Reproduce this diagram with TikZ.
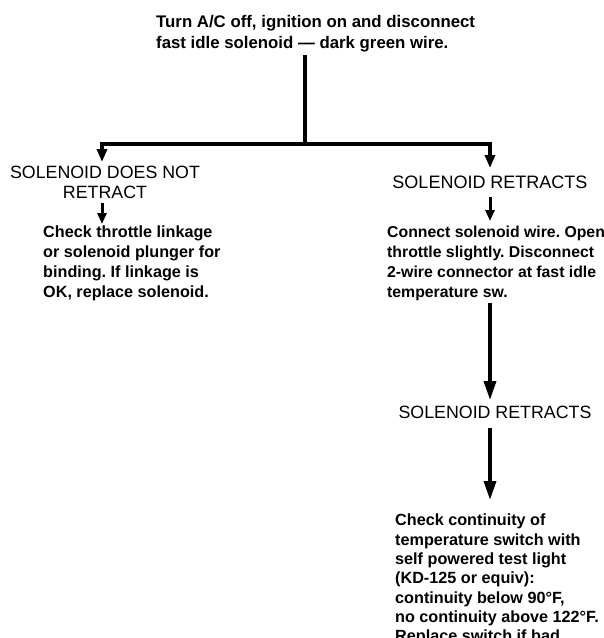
\documentclass[tikz,border=0pt]{standalone}
\usepackage{fontspec}
\setmainfont{Liberation Sans}
\usetikzlibrary{arrows.meta}
\frenchspacing

\begin{document}
\begin{tikzpicture}[x=1pt,y=-1pt,
  note/.style={font=\bfseries\fontsize{16.2}{20}\selectfont, align=left, anchor=north west, inner sep=0pt},
  result/.style={font=\fontsize{18}{20}\selectfont, align=center, anchor=north, inner sep=0pt},
  trunk/.style={line width=4pt},
  flow/.style={line width=3.5pt, -{Triangle[width=12pt,length=19pt]}},
  tick/.style={line width=3pt, -{Triangle[width=9pt,length=11pt]}}]
  \useasboundingbox (0,0) rectangle (604,638);

  \node[note, font=\bfseries\fontsize{16.8}{21}\selectfont] (turnoff) at (156,15)
    {Turn A/C off, ignition on and disconnect\\fast idle solenoid --- dark green wire.};

  \coordinate (split) at (305,144);
  \coordinate (lturn) at (102,144);
  \coordinate (rturn) at (490,144);

  \node[result, font=\fontsize{17.8}{20}\selectfont] (noretract) at (105,166) {SOLENOID DOES NOT\\RETRACT};
  \node[result] (retracts) at (490,176) {SOLENOID RETRACTS};

  \node[note] (linkage) at (43,226)
    {Check throttle linkage\\or solenoid plunger for\\binding. If linkage is\\OK, replace solenoid.};
  \node[note, font=\bfseries\fontsize{15.8}{20}\selectfont] (connect) at (387,226)
    {Connect solenoid wire. Open\\throttle slightly. Disconnect\\2-wire connector at fast idle\\temperature sw.};

  \node[result, font=\fontsize{17.8}{20}\selectfont] (retracts2) at (495,406) {SOLENOID RETRACTS};

  \node[note, font=\bfseries\fontsize{16.2}{19.3}\selectfont] (continuity) at (395,514)
    {Check continuity of\\temperature switch with\\self powered test light\\(KD-125 or equiv):\\continuity below 90°F,\\no continuity above 122°F.\\Replace switch if bad.};

  \draw[trunk, shorten <=3pt] (split |- turnoff.south) -- (split);
  \draw[flow, line width=4pt, -{Triangle[width=10pt,length=13pt]}, shorten >=4pt] (split) -| (lturn |- noretract.north);
  \draw[flow, line width=4pt, -{Triangle[width=10pt,length=13pt]}, shorten >=8pt] (split) -| (rturn |- retracts.north);

  \draw[tick, shorten <=4pt, shorten >=2pt] (lturn |- noretract.south) -- (lturn |- linkage.north);
  \draw[tick, shorten <=8pt, shorten >=5pt] (rturn |- retracts.south) -- (rturn |- connect.north);

  \draw[flow, shorten <=2pt, shorten >=6pt] (rturn |- connect.south) -- (rturn |- retracts2.north);
  \draw[flow, shorten <=9pt, shorten >=14pt] (rturn |- retracts2.south) -- (rturn |- continuity.north);
\end{tikzpicture}
\end{document}
